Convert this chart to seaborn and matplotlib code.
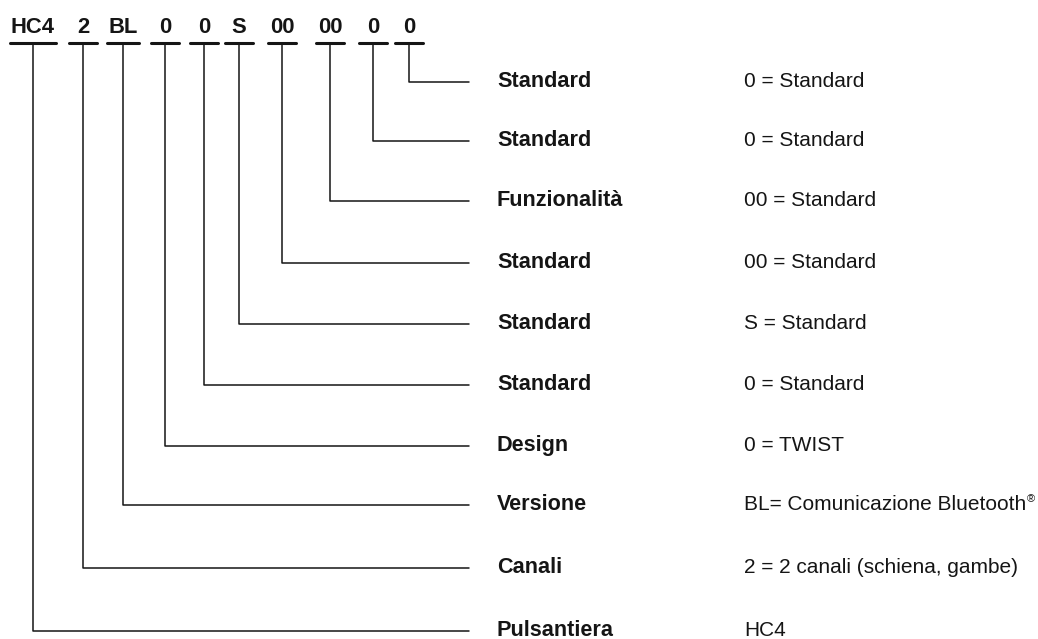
import matplotlib
matplotlib.use("Agg")
import matplotlib.pyplot as plt
from matplotlib import font_manager
import seaborn as sns
import pandas as pd

# ---- data ----
codes = ["HC4", "2", "BL", "0", "0", "S", "00", "00", "0", "0"]
fields = ["Pulsantiera", "Canali", "Versione", "Design", "Standard",
          "Standard", "Standard", "Funzionalità", "Standard", "Standard"]
descriptions = ["HC4", "2 = 2 canali (schiena, gambe)", "BL= Comunicazione Bluetooth",
                "0 = TWIST", "0 = Standard", "S = Standard", "00 = Standard",
                "00 = Standard", "0 = Standard", "0 = Standard"]
superscripts = ["", "", "®", "", "", "", "", "", "", ""]

# ---- layout (pixels) ----
code_x = [33, 83, 123, 165, 204, 239, 282, 330, 373, 409]
row_y = [631, 568, 505, 446, 385, 324, 263, 201, 141, 82]
code_base_y = 33
underline_y = 43
line_end_x = 469
label_x = 497
desc_x = 744

sns.set_theme(style="white")
names = {f.name for f in font_manager.fontManager.ttflist}
fam = "Liberation Sans Narrow" if "Liberation Sans Narrow" in names else "Liberation Sans"
plt.rcParams["font.family"] = [fam, "DejaVu Sans"]

W, H = 1038, 639
fig = plt.figure(figsize=(W / 100, H / 100), dpi=100)
ax = fig.add_axes([0, 0, 1, 1])

fs_code = 15.8
fs_lab = 15.6
fs_desc = 15.0
ink = "#151515"

# code texts
code_texts = []
for cx, c in zip(code_x, codes):
    t = ax.text(cx, code_base_y, c, ha="center", va="baseline", fontsize=fs_code,
                fontweight="bold", color=ink)
    code_texts.append(t)

ax.set_xlim(0, W)
ax.set_ylim(H, 0)
fig.canvas.draw()
renderer = fig.canvas.get_renderer()

# underlines
ul_rows = []
for i, (cx, t) in enumerate(zip(code_x, code_texts)):
    bb = t.get_window_extent(renderer)
    half = max(28, bb.width + 2) / 2
    ul_rows.append({"seg": i, "x": cx - half, "y": underline_y})
    ul_rows.append({"seg": i, "x": cx + half, "y": underline_y})
ul = pd.DataFrame(ul_rows)
sns.lineplot(data=ul, x="x", y="y", units="seg", estimator=None, sort=False,
             color=ink, linewidth=2.2, ax=ax, legend=False)

# connectors
con_rows = []
for i, (cx, ry) in enumerate(zip(code_x, row_y)):
    con_rows += [{"seg": i, "x": cx, "y": underline_y},
                 {"seg": i, "x": cx, "y": ry},
                 {"seg": i, "x": line_end_x, "y": ry}]
con = pd.DataFrame(con_rows)
sns.lineplot(data=con, x="x", y="y", units="seg", estimator=None, sort=False,
             color=ink, linewidth=1.1, ax=ax, legend=False)
ax.set_xlim(0, W)
ax.set_ylim(H, 0)
ax.axis("off")

# labels and descriptions
for ry, f, d, s in zip(row_y, fields, descriptions, superscripts):
    ax.text(label_x, ry + 5, f, ha="left", va="baseline", fontsize=fs_lab,
            fontweight="bold", color=ink)
    t = ax.text(desc_x, ry + 5, d, ha="left", va="baseline", fontsize=fs_desc,
                color=ink)
    if s:
        fig.canvas.draw()
        bb = t.get_window_extent(renderer)
        x1, _ = ax.transData.inverted().transform((bb.x1, bb.y1))
        ax.text(x1 + 0.5, ry - 3, s, ha="left", va="baseline", fontsize=8,
                color=ink)

fig.savefig("out.png", dpi=100)
